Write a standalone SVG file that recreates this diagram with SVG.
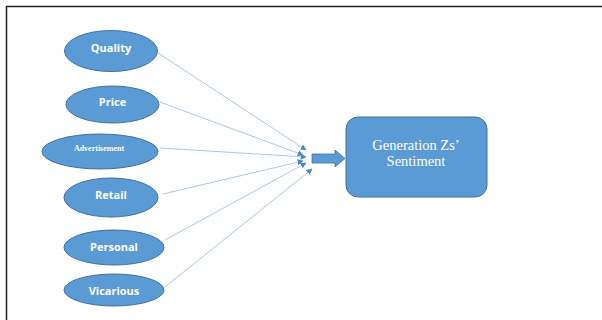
<svg xmlns="http://www.w3.org/2000/svg" width="602" height="320" viewBox="0 0 602 320">
<defs>
<style>
.node{fill:#5b9bd5;stroke:#41719c;stroke-width:1}
.lbl{fill:#ffffff;font-family:"Open Sans","Liberation Sans",sans-serif;font-weight:bold;font-size:11px;text-anchor:middle}
.ser{fill:#ffffff;font-family:"Liberation Serif",serif;text-anchor:middle}
.conn{stroke:#a9c8e8;stroke-width:1;fill:none;marker-end:url(#ah)}
</style>
<marker id="ah" viewBox="0 0 10 10" refX="9" refY="5" markerWidth="6" markerHeight="6" orient="auto" markerUnits="userSpaceOnUse">
<path d="M0,0 L10,5 L0,10 z" fill="#4a86c5"/>
</marker>
</defs>
<rect width="602" height="320" fill="#ffffff"/>
<path d="M6.5,320 V6.5 H602" fill="none" stroke="#222" stroke-width="1.5"/>
<g id="connectors">
<line class="conn" x1="158" y1="53" x2="306" y2="150"/>
<line class="conn" x1="160" y1="102" x2="303" y2="155"/>
<line class="conn" x1="160" y1="148" x2="306" y2="157"/>
<line class="conn" x1="163" y1="194" x2="303" y2="161"/>
<line class="conn" x1="165" y1="240" x2="306" y2="163"/>
<line class="conn" x1="165" y1="287" x2="312" y2="169"/>
<path id="block-arrow" d="M312,154 H335 V150 L345,158.5 L335,167 V163 H312 z" fill="#5b9bd5" stroke="#41719c" stroke-width="0.8"/>
</g>
<g id="quality"><ellipse class="node" cx="111" cy="51" rx="46.5" ry="20.5"/><text class="lbl" x="111" y="52">Quality</text></g>
<g id="price"><ellipse class="node" cx="112.5" cy="104.5" rx="46.5" ry="18.5"/><text class="lbl" x="112.5" y="106">Price</text></g>
<g id="advertisement"><ellipse class="node" cx="100" cy="151.5" rx="58" ry="17.5"/><text class="ser" x="99" y="151" font-size="8" font-weight="bold">Advertisement</text></g>
<g id="retail"><ellipse class="node" cx="111" cy="197.5" rx="47" ry="19.5"/><text class="lbl" x="111" y="199">Retail</text></g>
<g id="personal"><ellipse class="node" cx="114" cy="247.5" rx="50" ry="17.5"/><text class="lbl" x="114" y="250.5">Personal</text></g>
<g id="vicarious"><ellipse class="node" cx="114" cy="290" rx="50" ry="16"/><text class="lbl" x="114" y="295">Vicarious</text></g>
<g id="generation-zs-sentiment"><rect class="node" x="346" y="117" width="141" height="80" rx="12"/><text class="ser" x="416" y="150" font-size="14.5">Generation Zs’</text><text class="ser" x="416" y="166" font-size="14.5">Sentiment</text></g>
</svg>
